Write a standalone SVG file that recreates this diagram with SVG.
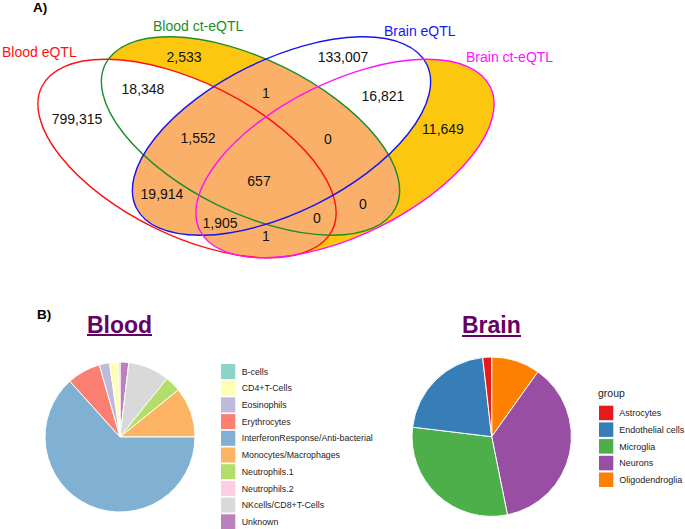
<svg xmlns="http://www.w3.org/2000/svg" xmlns:xlink="http://www.w3.org/1999/xlink" width="685" height="529" viewBox="0 0 685 529">
<style>
text{font-family:"Liberation Sans",Arial,sans-serif}
.num{font-size:14px;fill:#111;text-anchor:middle}
.set{font-size:14px}
.panel{font-size:13.5px;font-weight:bold;fill:#000}
.title{font-size:23px;font-weight:bold;fill:#660066}
.leg{font-size:8.8px;fill:#222}
.legb{font-size:9px;fill:#222}
.slice{stroke:#fff;stroke-width:1}
.outline{fill:none;stroke-width:1.4}
</style>
<defs>
<ellipse id="eR" cx="187" cy="158.5" rx="162" ry="76.5" transform="rotate(26.3 187 158.5)"/>
<ellipse id="eG" cx="250.5" cy="136" rx="162" ry="76.5" transform="rotate(26.3 250.5 136)"/>
<ellipse id="eB" cx="281.5" cy="136" rx="162" ry="76.5" transform="rotate(-26.3 281.5 136)"/>
<ellipse id="eP" cx="345" cy="158.5" rx="162" ry="76.5" transform="rotate(-26.3 345 158.5)"/>
<clipPath id="cBlood"><use xlink:href="#eR"/><use xlink:href="#eG"/></clipPath>
</defs>
<rect width="685" height="529" fill="#fff"/>
<text class="panel" x="33" y="12">A)</text>
<g id="venn">
<g id="fills">
<use xlink:href="#eG" fill="#FEC70F"/>
<use xlink:href="#eP" fill="#FEC70F"/>
<use xlink:href="#eR" fill="#fff"/>
<use xlink:href="#eB" fill="#fff"/>
<g clip-path="url(#cBlood)">
<use xlink:href="#eB" fill="#FAB068"/>
<use xlink:href="#eP" fill="#FAB068"/>
</g>
</g>
<g id="set-blood-eqtl"><use xlink:href="#eR" class="outline" stroke="#FF1010"/><text class="set" x="2" y="57" fill="#FF1010">Blood eQTL</text></g>
<g id="set-blood-ct-eqtl"><use xlink:href="#eG" class="outline" stroke="#1E8C2A"/><text class="set" x="153" y="31" fill="#1E8C2A">Blood ct-eQTL</text></g>
<g id="set-brain-eqtl"><use xlink:href="#eB" class="outline" stroke="#1515F0"/><text class="set" x="384" y="36" fill="#1515F0">Brain eQTL</text></g>
<g id="set-brain-ct-eqtl"><use xlink:href="#eP" class="outline" stroke="#FF10FF"/><text class="set" x="466" y="62" fill="#FF10FF">Brain ct-eQTL</text></g>
<g id="counts">
<text class="num" x="184" y="62">2,533</text>
<text class="num" x="143" y="94">18,348</text>
<text class="num" x="77" y="124">799,315</text>
<text class="num" x="266" y="98">1</text>
<text class="num" x="198" y="143">1,552</text>
<text class="num" x="328" y="144">0</text>
<text class="num" x="259" y="186">657</text>
<text class="num" x="162" y="199">19,914</text>
<text class="num" x="220" y="228">1,905</text>
<text class="num" x="317" y="223">0</text>
<text class="num" x="266" y="241">1</text>
<text class="num" x="343" y="62">133,007</text>
<text class="num" x="383" y="101">16,821</text>
<text class="num" x="443" y="134">11,649</text>
<text class="num" x="363" y="209">0</text>
</g>
</g>
<text class="panel" x="37" y="319">B)</text>
<g id="blood-pie">
<text class="title" x="87" y="332.5">Blood</text>
<line x1="87" y1="335" x2="152" y2="335" stroke="#660066" stroke-width="2"/>
<path class="slice" fill="#BC80BD" d="M120,437 L120,362 A75,75 0 0 1 128.88,362.53 Z"/>
<path class="slice" fill="#D9D9D9" d="M120,437 L128.88,362.53 A75,75 0 0 1 167,378.55 Z"/>
<path class="slice" fill="#B3DE69" d="M120,437 L167,378.55 A75,75 0 0 1 178.37,389.9 Z"/>
<path class="slice" fill="#FDB462" d="M120,437 L178.37,389.9 A75,75 0 0 1 195,437 Z"/>
<path class="slice" fill="#80B1D3" d="M120,437 L195,437 A75,75 0 1 1 69.82,381.27 Z"/>
<path class="slice" fill="#FB8072" d="M120,437 L69.82,381.27 A75,75 0 0 1 99.33,364.9 Z"/>
<path class="slice" fill="#BEBADA" d="M120,437 L99.33,364.9 A75,75 0 0 1 109.56,362.73 Z"/>
<path class="slice" fill="#FFFFB3" d="M120,437 L109.56,362.73 A75,75 0 0 1 118.69,362.01 Z"/>
<path class="slice" fill="#8DD3C7" d="M120,437 L118.69,362.01 A75,75 0 0 1 120,362 Z"/>
</g>
<g id="blood-legend">
<rect x="221" y="364" width="14.3" height="15" fill="#8DD3C7"/>
<rect x="221" y="380.7" width="14.3" height="15" fill="#FFFFB3"/>
<rect x="221" y="397.4" width="14.3" height="15" fill="#BEBADA"/>
<rect x="221" y="414.1" width="14.3" height="15" fill="#FB8072"/>
<rect x="221" y="430.8" width="14.3" height="15" fill="#80B1D3"/>
<rect x="221" y="447.5" width="14.3" height="15" fill="#FDB462"/>
<rect x="221" y="464.2" width="14.3" height="15" fill="#B3DE69"/>
<rect x="221" y="480.9" width="14.3" height="15" fill="#FCCDE5"/>
<rect x="221" y="497.6" width="14.3" height="15" fill="#D9D9D9"/>
<rect x="221" y="514.3" width="14.3" height="15" fill="#BC80BD"/>
<text class="leg" x="241.7" y="374.6">B-cells</text>
<text class="leg" x="241.7" y="391.3">CD4+T-Cells</text>
<text class="leg" x="241.7" y="408">Eosinophils</text>
<text class="leg" x="241.7" y="424.7">Erythrocytes</text>
<text class="leg" x="241.7" y="441.4">InterferonResponse/Anti-bacterial</text>
<text class="leg" x="241.7" y="458.1">Monocytes/Macrophages</text>
<text class="leg" x="241.7" y="474.8">Neutrophils.1</text>
<text class="leg" x="241.7" y="491.5">Neutrophils.2</text>
<text class="leg" x="241.7" y="508.2">NKcells/CD8+T-Cells</text>
<text class="leg" x="241.7" y="524.9">Unknown</text>
</g>
<g id="brain-pie">
<text class="title" x="462" y="332.5">Brain</text>
<line x1="462" y1="336" x2="521" y2="336" stroke="#660066" stroke-width="2"/>
<path class="slice" fill="#FF7F00" d="M491.7,436.7 L491.7,357 A79.7,79.7 0 0 1 537.98,371.82 Z"/>
<path class="slice" fill="#984EA3" d="M491.7,436.7 L537.98,371.82 A79.7,79.7 0 0 1 507.46,514.83 Z"/>
<path class="slice" fill="#4DAF4A" d="M491.7,436.7 L507.46,514.83 A79.7,79.7 0 0 1 412.57,427.13 Z"/>
<path class="slice" fill="#377EB8" d="M491.7,436.7 L412.57,427.13 A79.7,79.7 0 0 1 482.68,357.51 Z"/>
<path class="slice" fill="#E41A1C" d="M491.7,436.7 L482.68,357.51 A79.7,79.7 0 0 1 491.7,357 Z"/>
</g>
<g id="brain-legend">
<text x="598" y="397" font-size="10.5" fill="#222">group</text>
<rect x="599" y="405.7" width="14.3" height="14.5" fill="#E41A1C"/>
<rect x="599" y="422.4" width="14.3" height="14.5" fill="#377EB8"/>
<rect x="599" y="439.1" width="14.3" height="14.5" fill="#4DAF4A"/>
<rect x="599" y="455.8" width="14.3" height="14.5" fill="#984EA3"/>
<rect x="599" y="472.5" width="14.3" height="14.5" fill="#FF7F00"/>
<text class="legb" x="619.3" y="416.1">Astrocytes</text>
<text class="legb" x="619.3" y="432.8">Endothelial cells</text>
<text class="legb" x="619.3" y="449.5">Microglia</text>
<text class="legb" x="619.3" y="466.2">Neurons</text>
<text class="legb" x="619.3" y="482.9">Oligodendroglia</text>
</g>
</svg>
